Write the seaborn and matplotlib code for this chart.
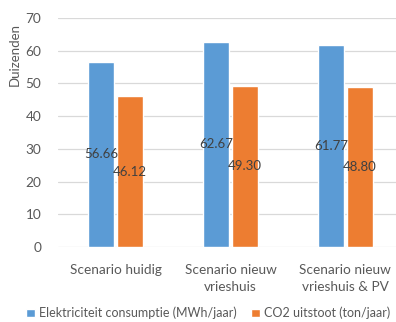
import matplotlib
matplotlib.use("Agg")
import matplotlib.pyplot as plt
import seaborn as sns
import pandas as pd

scenarios = ["Scenario huidig", "Scenario nieuw\nvrieshuis", "Scenario nieuw\nvrieshuis & PV"]
series_names = ["Elektriciteit consumptie (MWh/jaar)", "CO2 uitstoot (ton/jaar)"]
elektriciteit = [56.66, 62.67, 61.77]
co2 = [46.12, 49.30, 48.80]
y_ticks = [0, 10, 20, 30, 40, 50, 60, 70]

df = pd.DataFrame({
    "scenario": scenarios * 2,
    "reeks": [series_names[0]] * 3 + [series_names[1]] * 3,
    "waarde": elektriciteit + co2,
})

sns.set_theme(style="white")
plt.rcParams["font.family"] = ["Lato", "DejaVu Sans"]

text_grey = "#595959"
fig = plt.figure(figsize=(3.96, 3.22), dpi=100)
ax = fig.add_axes([58 / 396, 1 - 247 / 322, 1 - 58 / 396, 229 / 322])

sns.barplot(data=df, x="scenario", y="waarde", hue="reeks",
            palette=["#5B9BD5", "#ED7D31"], width=0.504, gap=0.1,
            saturation=1, ax=ax, legend=True)

for cont in ax.containers:
    ax.bar_label(cont, fmt="%.2f", label_type="center", color="#404040", fontsize=9.5)

ax.set_ylim(0, 70)
ax.set_xlim(-0.5, 2.44)
ax.set_yticks(y_ticks)
ax.yaxis.grid(True, color="#D9D9D9", linewidth=0.9)
ax.set_axisbelow(True)
for s in ax.spines.values():
    s.set_visible(False)
ax.tick_params(axis="x", length=0, labelsize=9.8, colors=text_grey, pad=12)
ax.tick_params(axis="y", length=0, labelsize=9.8, colors=text_grey, pad=12)
for lbl in ax.get_xticklabels():
    lbl.set_linespacing(1.55)
ax.set_xlabel("")
ax.set_ylabel("")

fig.text(15 / 396, 1 - 55 / 322, "Duizenden", rotation=90, ha="center", va="center",
         fontsize=9.5, color=text_grey)

handles, labels = ax.get_legend_handles_labels()
ax.get_legend().remove()
fig.legend(handles, labels, loc="center", bbox_to_anchor=(208 / 396, 1 - 313 / 322),
           ncol=2, frameon=False, fontsize=9, handlelength=0.7, handleheight=0.7,
           handletextpad=0.3, columnspacing=1.2, labelcolor=text_grey)

fig.savefig("out.png", dpi=100)
